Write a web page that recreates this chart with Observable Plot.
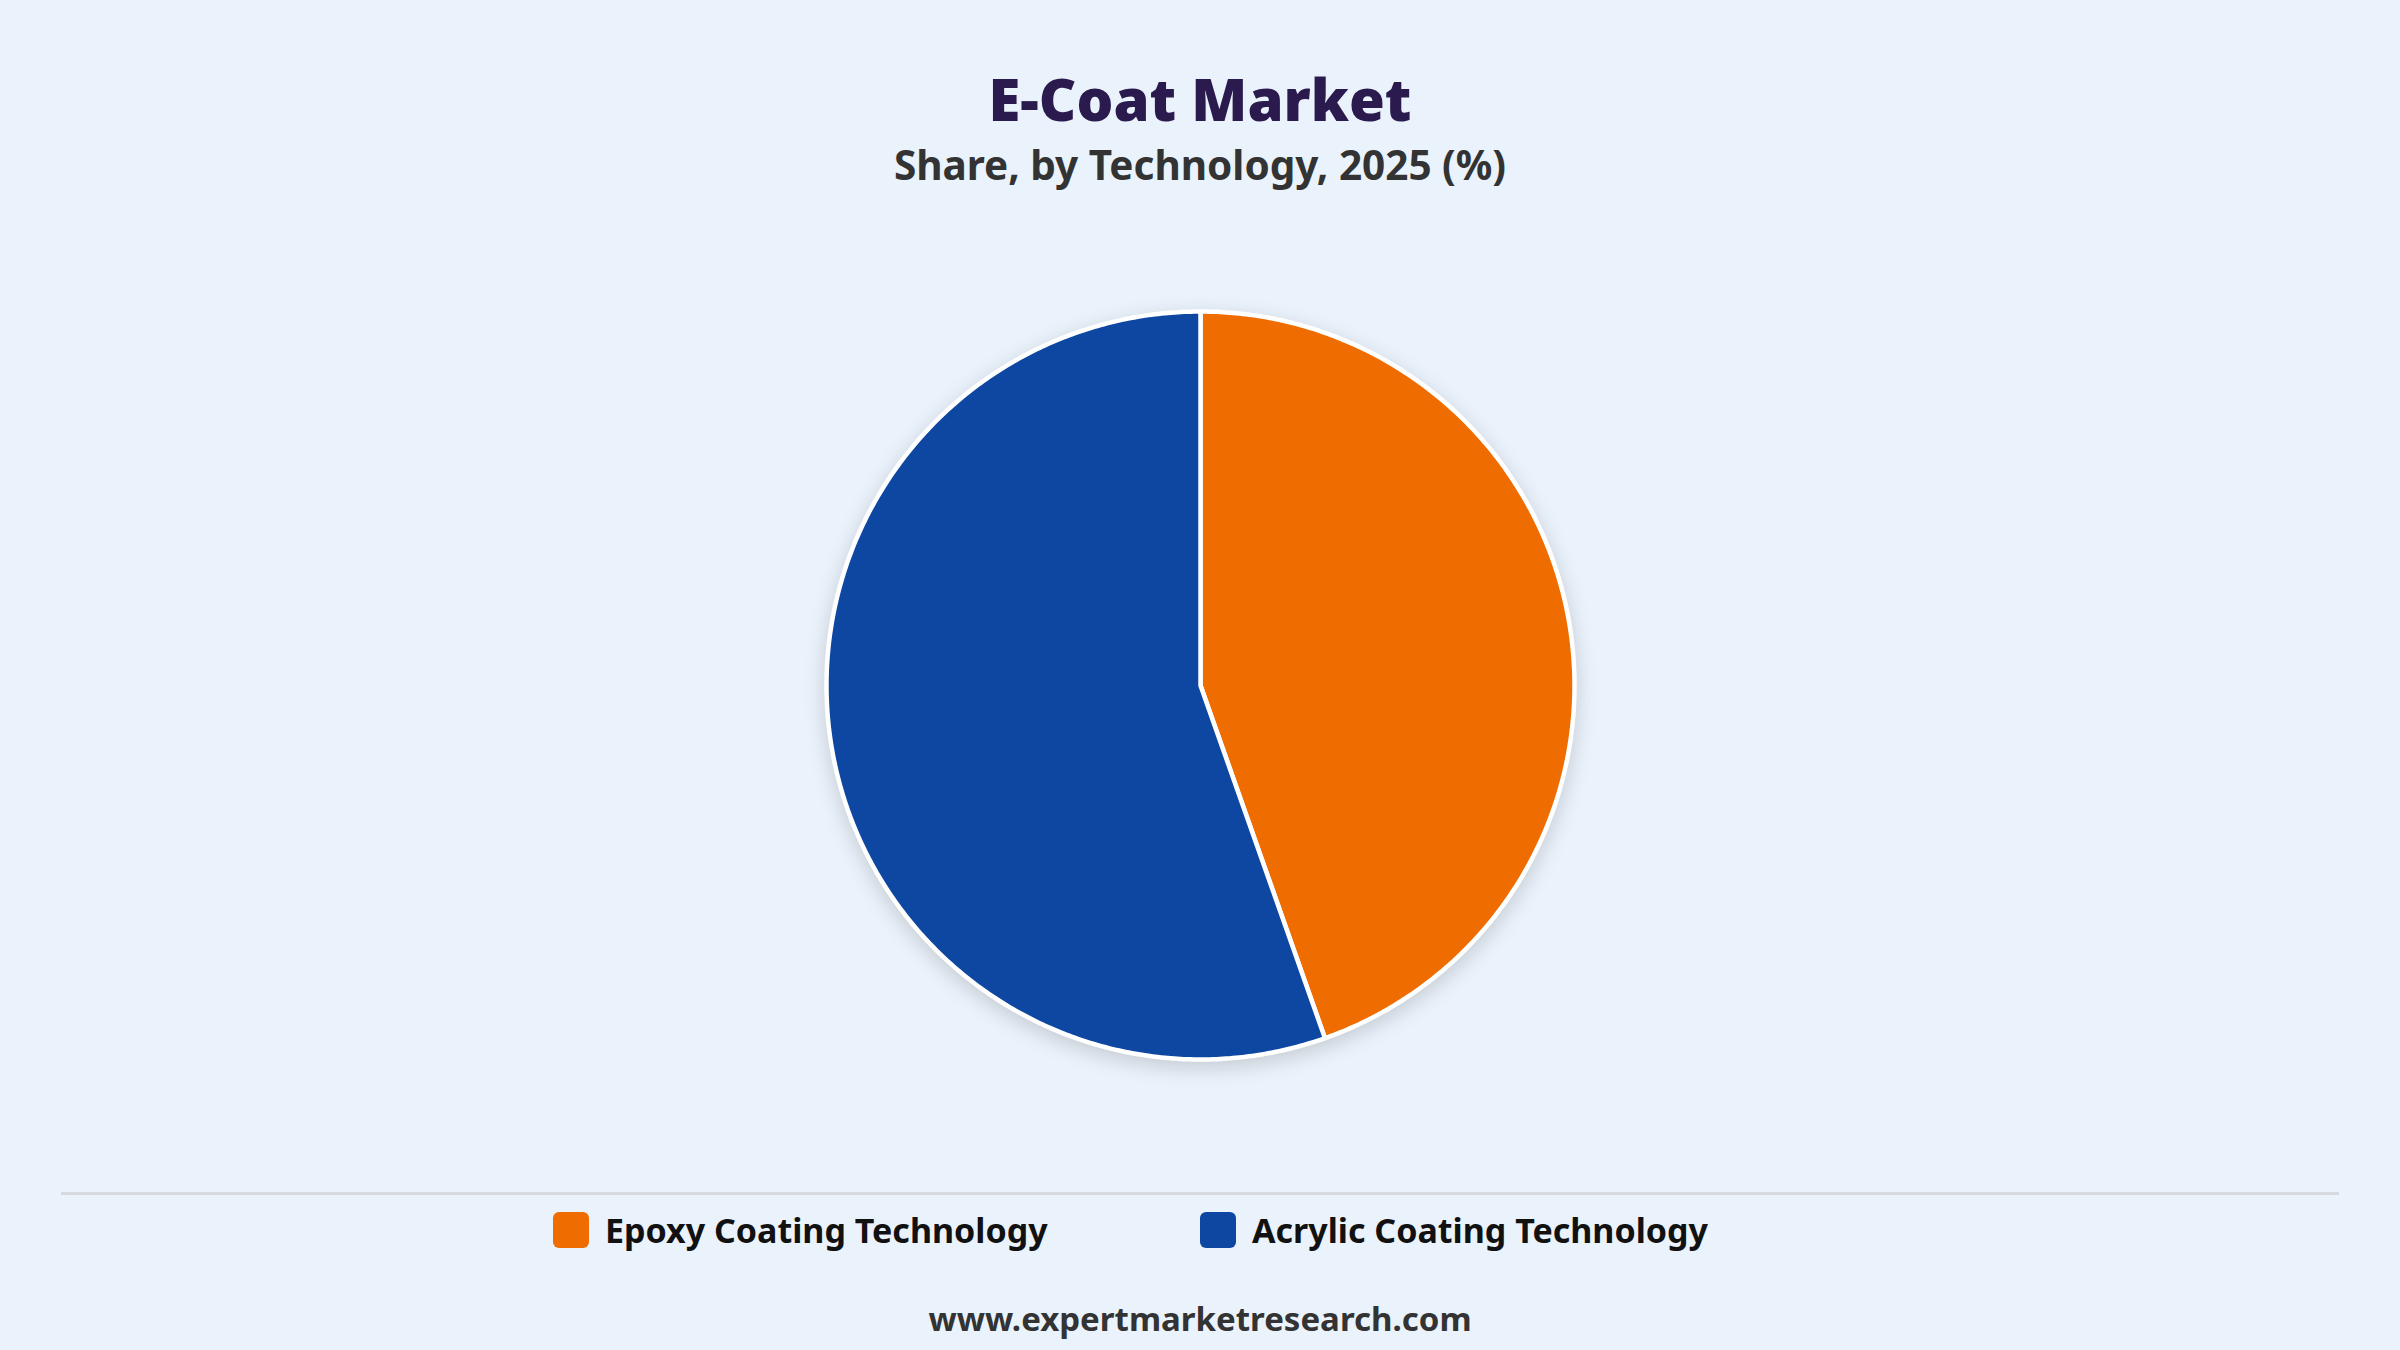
<!DOCTYPE html>
<html>
<head>
<meta charset="utf-8">
<script src="https://cdn.jsdelivr.net/npm/d3@7"></script>
<script src="https://cdn.jsdelivr.net/npm/@observablehq/plot@0.6"></script>
<style>
  html, body { margin: 0; padding: 0; }
  body { width: 2400px; height: 1350px; background: #EAF2FB; position: relative; overflow: hidden; font-family: "Noto Sans", "Open Sans", sans-serif; }
  #title { position: absolute; left: 0; width: 2400px; top: 70px; text-align: center; font-size: 58px; font-weight: 900; color: #2B1A4E; line-height: 1; }
  #subtitle { position: absolute; left: 0; width: 2400px; top: 145px; text-align: center; font-size: 40.5px; font-weight: 700; color: #333333; line-height: 1; }
  #chart { position: absolute; left: 0; top: 230px; width: 2400px; }
  #chart svg { filter: drop-shadow(0px 6px 10px rgba(0,0,0,0.16)); background: transparent; }
  #divider { position: absolute; left: 61px; width: 2278px; top: 1192px; height: 3px; background: #D6D9DE; }
  #legend { position: absolute; left: 0; width: 2400px; top: 1208px; display: flex; justify-content: center; }
  .item { width: 647px; display: flex; align-items: center; }
  .sw { width: 36px; height: 36px; border-radius: 6px; margin-right: 16px; flex: none; }
  .lab { font-size: 34px; font-weight: 700; color: #111111; line-height: 44px; }
  #footer { position: absolute; left: 0; width: 2400px; top: 1302px; text-align: center; font-size: 33px; font-weight: 700; color: #333333; line-height: 1; }
</style>
</head>
<body>
<div id="title">E-Coat Market</div>
<div id="subtitle">Share, by Technology, 2025 (%)</div>
<div id="chart"></div>
<div id="divider"></div>
<div id="legend"></div>
<div id="footer">www.expertmarketresearch.com</div>
<script>
const categories = ["Epoxy Coating Technology", "Acrylic Coating Technology"];
const shares = [44.6, 55.4];
const colors = ["#EF6C00", "#0D47A1"];

const W = 2400, H = 910, R = 374;
const pie = d3.pie().sort(null).value(d => d.value);
const arcs = pie(categories.map((c, i) => ({category: c, value: shares[i]})));

// Build polygon outlines for each slice (unit circle coordinates)
const pts = [];
for (const a of arcs) {
  const cat = a.data.category;
  pts.push({category: cat, x: 0, y: 0});
  const n = Math.max(8, Math.ceil((a.endAngle - a.startAngle) / (2 * Math.PI) * 720));
  for (let k = 0; k <= n; k++) {
    const t = a.startAngle + (a.endAngle - a.startAngle) * k / n;
    pts.push({category: cat, x: Math.sin(t), y: Math.cos(t)});
  }
}

const chart = Plot.plot({
  width: W,
  height: H,
  margin: 0,
  x: {domain: [-W / 2 / R, W / 2 / R], axis: null},
  y: {domain: [-H / 2 / R, H / 2 / R], axis: null},
  color: {domain: categories, range: colors},
  style: {background: "transparent"},
  marks: [
    Plot.line(pts, {
      x: "x", y: "y", z: "category", fill: "category",
      stroke: "white", strokeWidth: 4.5, strokeLinejoin: "round",
      curve: "linear-closed"
    })
  ]
});
document.getElementById("chart").appendChild(chart);

const legend = document.getElementById("legend");
categories.forEach((c, i) => {
  const item = document.createElement("div");
  item.className = "item";
  const sw = document.createElement("div");
  sw.className = "sw";
  sw.style.background = colors[i];
  const lab = document.createElement("div");
  lab.className = "lab";
  lab.textContent = c;
  item.appendChild(sw);
  item.appendChild(lab);
  legend.appendChild(item);
});
</script>
</body>
</html>
